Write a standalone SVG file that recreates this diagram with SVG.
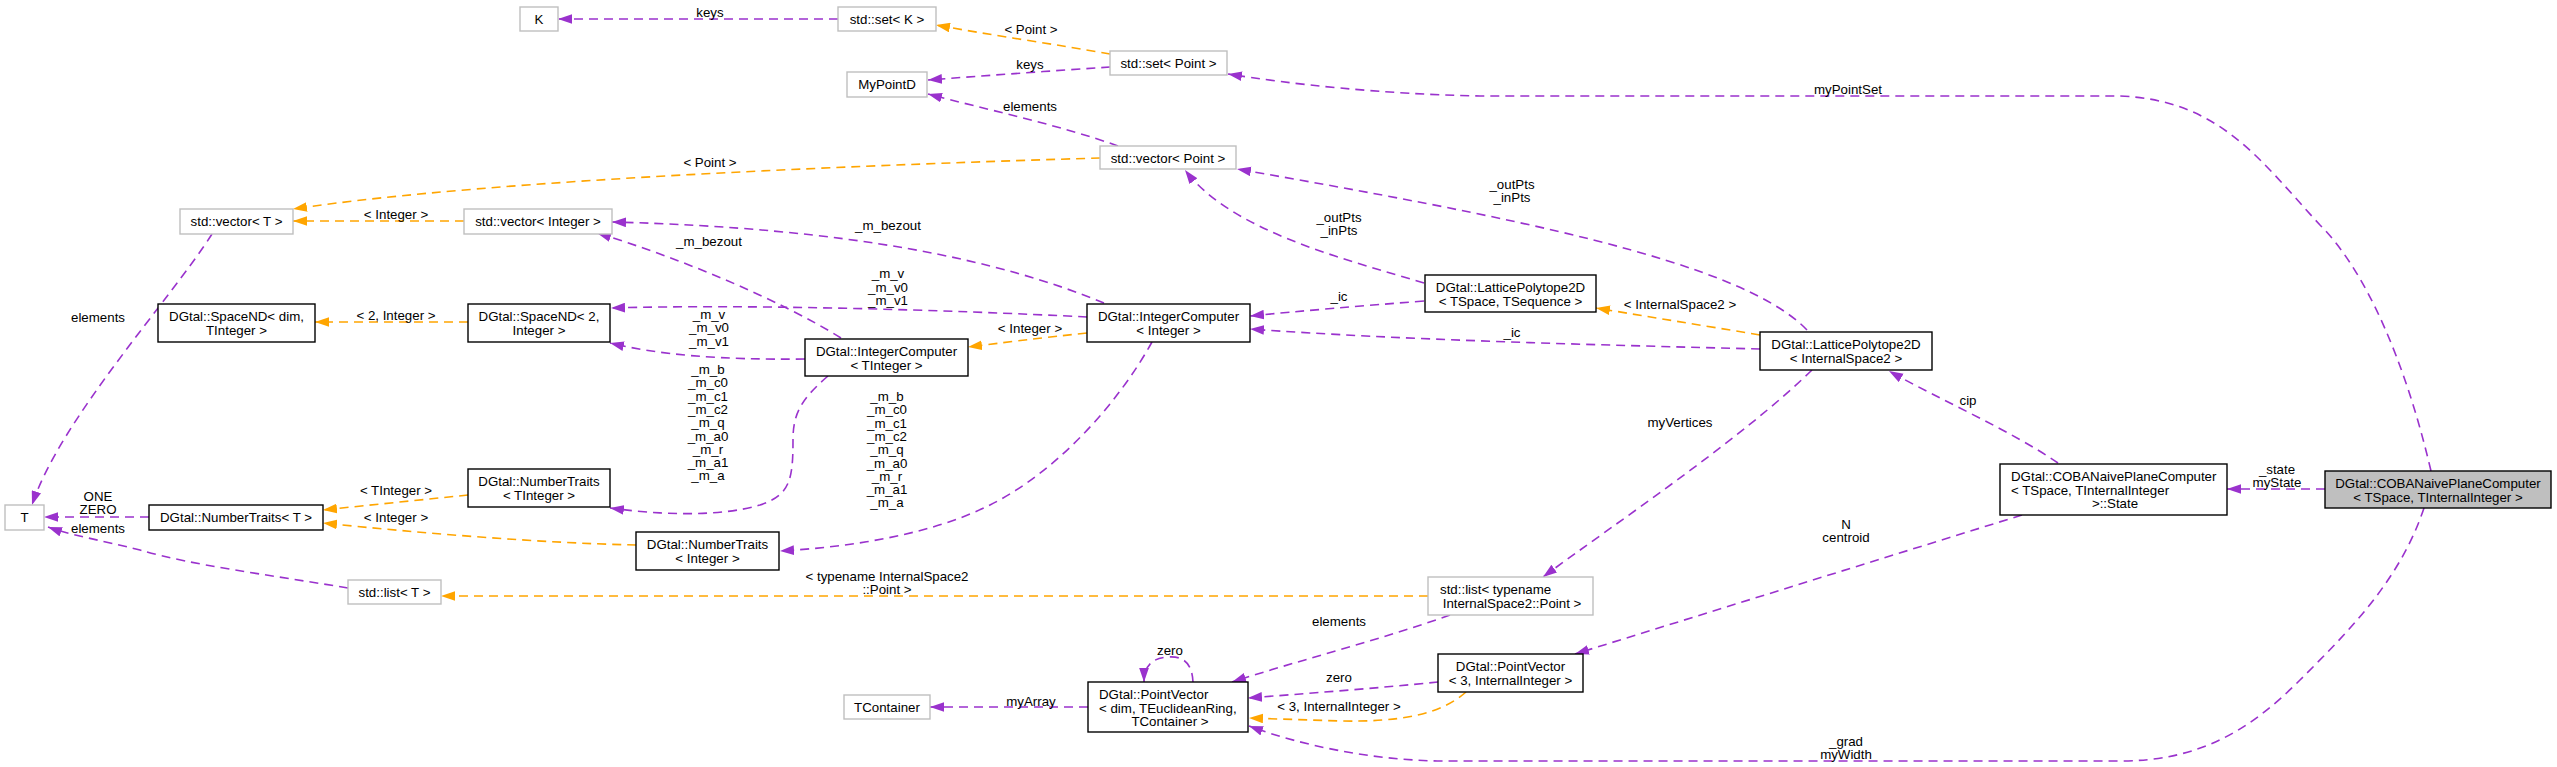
<svg xmlns="http://www.w3.org/2000/svg" width="2557" height="767" viewBox="0 0 2557 767">
<style>
text{font-family:"Liberation Sans",Arial,sans-serif;font-size:13.3px;fill:#000}
.m{text-anchor:middle}
.nb{fill:#fff;stroke:#000;stroke-width:1.4}
.ng{fill:#fff;stroke:#bfbfbf;stroke-width:1.4}
.nm{fill:#bfbfbf;stroke:#000;stroke-width:1.4}
.ep{fill:none;stroke:#9a32cd;stroke-width:1.6;stroke-dasharray:9,6;marker-end:url(#ap)}
.eo{fill:none;stroke:#ffa500;stroke-width:1.6;stroke-dasharray:9,6;marker-end:url(#ao)}
</style>
<defs>
<marker id="ap" markerUnits="userSpaceOnUse" markerWidth="14" markerHeight="10" viewBox="0 0 13 9" refX="13" refY="4.5" orient="auto"><path d="M0,0 L13,4.5 L0,9 z" fill="#9a32cd"/></marker>
<marker id="ao" markerUnits="userSpaceOnUse" markerWidth="14" markerHeight="10" viewBox="0 0 13 9" refX="13" refY="4.5" orient="auto"><path d="M0,0 L13,4.5 L0,9 z" fill="#ffa500"/></marker>
</defs>
<rect width="2557" height="767" fill="#fff"/>
<g id="connectors">
<g><path class="ep" d="M838,19 L558,19"/><text class="m" x="710" y="17">keys</text></g>
<g><path class="eo" d="M1110,54 C1060,45 990,35 936,25"/><text class="m" x="1031" y="34">&lt; Point &gt;</text></g>
<g><path class="ep" d="M1110,67 C1050,71 980,76 928,80"/><text class="m" x="1030" y="69">keys</text></g>
<g><path class="ep" d="M1118,146 C1060,125 980,108 928,94"/><text class="m" x="1030" y="111">elements</text></g>
<g><path class="eo" d="M1100,158 C900,164 500,178 293,209"/><text class="m" x="710" y="167">&lt; Point &gt;</text></g>
<g><path class="eo" d="M464,221 L293,221"/><text class="m" x="396" y="219">&lt; Integer &gt;</text></g>
<g><path class="ep" d="M212,234 C170,300 60,420 32,505"/><text class="m" x="98" y="322">elements</text></g>
<g><path class="ep" d="M1104,303 C1000,260 850,228 612,222"/><text class="m" x="888" y="230">_m_bezout</text></g>
<g><path class="ep" d="M841,338 C780,300 680,258 597,233"/><text class="m" x="709" y="246">_m_bezout</text></g>
<g><path class="ep" d="M1087,317 C950,310 750,304 611,308"/><text class="m" x="888" y="278">_m_v</text><text class="m" x="888" y="291.5">_m_v0</text><text class="m" x="888" y="305">_m_v1</text></g>
<g><path class="ep" d="M805,359 C720,360 660,355 610,343"/><text class="m" x="709" y="319">_m_v</text><text class="m" x="709" y="332.3">_m_v0</text><text class="m" x="709" y="345.6">_m_v1</text></g>
<g><path class="eo" d="M468,322 L315,322"/><text class="m" x="396" y="320">&lt; 2, Integer &gt;</text></g>
<g><path class="eo" d="M1087,333 C1040,338 1000,343 968,347"/><text class="m" x="1030" y="333">&lt; Integer &gt;</text></g>
<g><path class="ep" d="M828,376 C800,400 793,415 793,440 C793,480 790,495 760,505 C720,517 660,515 610,508"/>
<text class="m" x="708" y="374">_m_b</text><text class="m" x="708" y="387.3">_m_c0</text><text class="m" x="708" y="400.6">_m_c1</text><text class="m" x="708" y="413.9">_m_c2</text><text class="m" x="708" y="427.2">_m_q</text><text class="m" x="708" y="440.5">_m_a0</text><text class="m" x="708" y="453.8">_m_r</text><text class="m" x="708" y="467.1">_m_a1</text><text class="m" x="708" y="480.4">_m_a</text></g>
<g><path class="ep" d="M1152,342 C1120,400 1060,470 990,505 C930,535 850,547 780,551"/>
<text class="m" x="887" y="401">_m_b</text><text class="m" x="887" y="414.3">_m_c0</text><text class="m" x="887" y="427.6">_m_c1</text><text class="m" x="887" y="440.9">_m_c2</text><text class="m" x="887" y="454.2">_m_q</text><text class="m" x="887" y="467.5">_m_a0</text><text class="m" x="887" y="480.8">_m_r</text><text class="m" x="887" y="494.1">_m_a1</text><text class="m" x="887" y="507.4">_m_a</text></g>
<g><path class="eo" d="M468,495 C420,500 370,505 323,510"/><text class="m" x="396" y="495">&lt; TInteger &gt;</text></g>
<g><path class="eo" d="M636,545 C540,543 420,533 323,523"/><text class="m" x="396" y="522">&lt; Integer &gt;</text></g>
<g><path class="ep" d="M149,517 L44,517"/><text class="m" x="98" y="501">ONE</text><text class="m" x="98" y="514">ZERO</text></g>
<g><path class="ep" d="M348,588 C270,575 190,565 140,550 C100,540 70,535 48,527"/><text class="m" x="98" y="533">elements</text></g>
<g><path class="eo" d="M1428,596 L441,596"/><text class="m" x="887" y="581">&lt; typename InternalSpace2</text><text class="m" x="887" y="594">::Point &gt;</text></g>
<g><path class="ep" d="M1424,283 C1340,258 1230,230 1185,170"/><text class="m" x="1339" y="222">_outPts</text><text class="m" x="1339" y="235">_inPts</text></g>
<g><path class="ep" d="M1807,330 C1740,260 1500,215 1237,169"/><text class="m" x="1512" y="189">_outPts</text><text class="m" x="1512" y="202">_inPts</text></g>
<g><path class="ep" d="M1424,301 C1360,306 1300,311 1250,316"/><text class="m" x="1339" y="301">_ic</text></g>
<g><path class="ep" d="M1760,349 C1600,345 1400,340 1250,329"/><text class="m" x="1512" y="337">_ic</text></g>
<g><path class="eo" d="M1760,335 C1700,325 1650,317 1596,308"/><text class="m" x="1680" y="309">&lt; InternalSpace2 &gt;</text></g>
<g><path class="ep" d="M1812,370 C1740,440 1620,520 1543,577"/><text class="m" x="1680" y="427">myVertices</text></g>
<g><path class="ep" d="M2058,463 C2010,430 1940,400 1889,371"/><text class="m" x="1968" y="405">cip</text></g>
<g><path class="ep" d="M2325,489 L2227,489"/><text class="m" x="2277" y="474">_state</text><text class="m" x="2277" y="487">myState</text></g>
<g><path class="ep" d="M2022,515 L1575,654"/><text class="m" x="1846" y="529">N</text><text class="m" x="1846" y="542">centroid</text></g>
<g><path class="ep" d="M2431,471 C2405,360 2365,270 2320,225 C2260,160 2220,100 2120,96 L1480,96 C1380,94 1290,84 1228,74"/><text class="m" x="1848" y="94">myPointSet</text></g>
<g><path class="ep" d="M2424,508 C2400,580 2350,630 2300,680 C2250,730 2200,761 2120,761 L1440,761 C1370,760 1300,745 1249,726"/><text class="m" x="1846" y="746">_grad</text><text class="m" x="1846" y="759">myWidth</text></g>
<g><path class="ep" d="M1438,682 C1380,688 1300,694 1248,698"/><text class="m" x="1339" y="682">zero</text></g>
<g><path class="eo" d="M1466,692 C1440,715 1400,722 1340,721 L1249,718"/><text class="m" x="1339" y="711">&lt; 3, InternalInteger &gt;</text></g>
<g><path class="ep" d="M1450,615 C1380,640 1300,660 1232,682"/><text class="m" x="1339" y="626">elements</text></g>
<g><path class="ep" d="M1193,682 C1192,660 1180,656 1168,657 C1152,658 1144,666 1144,682"/><text class="m" x="1170" y="655">zero</text></g>
<g><path class="ep" d="M1088,707 L930,707"/><text class="m" x="1031" y="706">myArray</text></g>
</g>
<g id="n_K"><rect class="ng" x="520" y="7" width="38" height="24"/><text class="m" x="539" y="24">K</text></g>
<g id="n_setK"><rect class="ng" x="838" y="7" width="98" height="24"/><text class="m" x="887" y="24">std::set&lt; K &gt;</text></g>
<g id="n_MyPointD"><rect class="ng" x="847" y="72" width="80" height="25"/><text class="m" x="887" y="89">MyPointD</text></g>
<g id="n_setPoint"><rect class="ng" x="1110" y="51" width="117" height="24"/><text class="m" x="1168.5" y="68">std::set&lt; Point &gt;</text></g>
<g id="n_vectorPoint"><rect class="ng" x="1100" y="146" width="136" height="23"/><text class="m" x="1168" y="162.5">std::vector&lt; Point &gt;</text></g>
<g id="n_vectorT"><rect class="ng" x="180" y="209" width="113" height="25"/><text class="m" x="236.5" y="226.4">std::vector&lt; T &gt;</text></g>
<g id="n_vectorInteger"><rect class="ng" x="464" y="209" width="148" height="25"/><text class="m" x="538" y="226.4">std::vector&lt; Integer &gt;</text></g>
<g id="n_SpaceNDdim"><rect class="nb" x="158" y="304" width="157" height="38"/><text class="m" x="236.5" y="321.2">DGtal::SpaceND&lt; dim,</text><text class="m" x="236.5" y="334.5">TInteger &gt;</text></g>
<g id="n_SpaceND2"><rect class="nb" x="468" y="304" width="142" height="38"/><text class="m" x="539" y="321.2">DGtal::SpaceND&lt; 2,</text><text class="m" x="539" y="334.5">Integer &gt;</text></g>
<g id="n_ICInteger"><rect class="nb" x="1087" y="304" width="163" height="38"/><text class="m" x="1168.5" y="321.2">DGtal::IntegerComputer</text><text class="m" x="1168.5" y="334.5">&lt; Integer &gt;</text></g>
<g id="n_ICTInteger"><rect class="nb" x="805" y="339" width="163" height="37"/><text class="m" x="886.5" y="356.2">DGtal::IntegerComputer</text><text class="m" x="886.5" y="369.5">&lt; TInteger &gt;</text></g>
<g id="n_LP2DTS"><rect class="nb" x="1425" y="275" width="171" height="37"/><text class="m" x="1510.5" y="292.2">DGtal::LatticePolytope2D</text><text class="m" x="1510.5" y="305.5">&lt; TSpace, TSequence &gt;</text></g>
<g id="n_LP2DIS2"><rect class="nb" x="1760" y="332" width="172" height="38"/><text class="m" x="1846" y="349.2">DGtal::LatticePolytope2D</text><text class="m" x="1846" y="362.5">&lt; InternalSpace2 &gt;</text></g>
<g id="n_NTTInteger"><rect class="nb" x="468" y="469" width="142" height="38"/><text class="m" x="539" y="486.2">DGtal::NumberTraits</text><text class="m" x="539" y="499.5">&lt; TInteger &gt;</text></g>
<g id="n_NTInteger"><rect class="nb" x="636" y="532" width="143" height="38"/><text class="m" x="707.5" y="549.2">DGtal::NumberTraits</text><text class="m" x="707.5" y="562.5">&lt; Integer &gt;</text></g>
<g id="n_NTT"><rect class="nb" x="149" y="505" width="174" height="25"/><text class="m" x="236" y="522.4">DGtal::NumberTraits&lt; T &gt;</text></g>
<g id="n_T"><rect class="ng" x="5" y="505" width="39" height="25"/><text class="m" x="24.5" y="522.4">T</text></g>
<g id="n_listT"><rect class="ng" x="348" y="580" width="93" height="24"/><text class="m" x="394.5" y="597">std::list&lt; T &gt;</text></g>
<g id="n_listTypename"><rect class="ng" x="1428" y="577" width="165" height="38"/><text x="1440" y="594.2">std::list&lt; typename</text><text class="m" x="1512" y="607.5">InternalSpace2::Point &gt;</text></g>
<g id="n_TContainer"><rect class="ng" x="844" y="695" width="86" height="24"/><text class="m" x="887" y="712">TContainer</text></g>
<g id="n_PVdim"><rect class="nb" x="1088" y="682" width="160" height="50"/><text x="1099" y="699.2">DGtal::PointVector</text><text x="1099" y="712.5">&lt; dim, TEuclideanRing,</text><text class="m" x="1170" y="725.8">TContainer &gt;</text></g>
<g id="n_PV3"><rect class="nb" x="1438" y="654" width="145" height="38"/><text class="m" x="1510.5" y="671.2">DGtal::PointVector</text><text class="m" x="1510.5" y="684.5">&lt; 3, InternalInteger &gt;</text></g>
<g id="n_State"><rect class="nb" x="2000" y="464" width="227" height="51"/><text x="2011" y="481.2">DGtal::COBANaivePlaneComputer</text><text x="2011" y="494.5">&lt; TSpace, TInternalInteger</text><text class="m" x="2115" y="507.8">&gt;::State</text></g>
<g id="n_Main"><rect class="nm" x="2325" y="471" width="226" height="37"/><text class="m" x="2438" y="488.2">DGtal::COBANaivePlaneComputer</text><text class="m" x="2438" y="501.5">&lt; TSpace, TInternalInteger &gt;</text></g>
</svg>
